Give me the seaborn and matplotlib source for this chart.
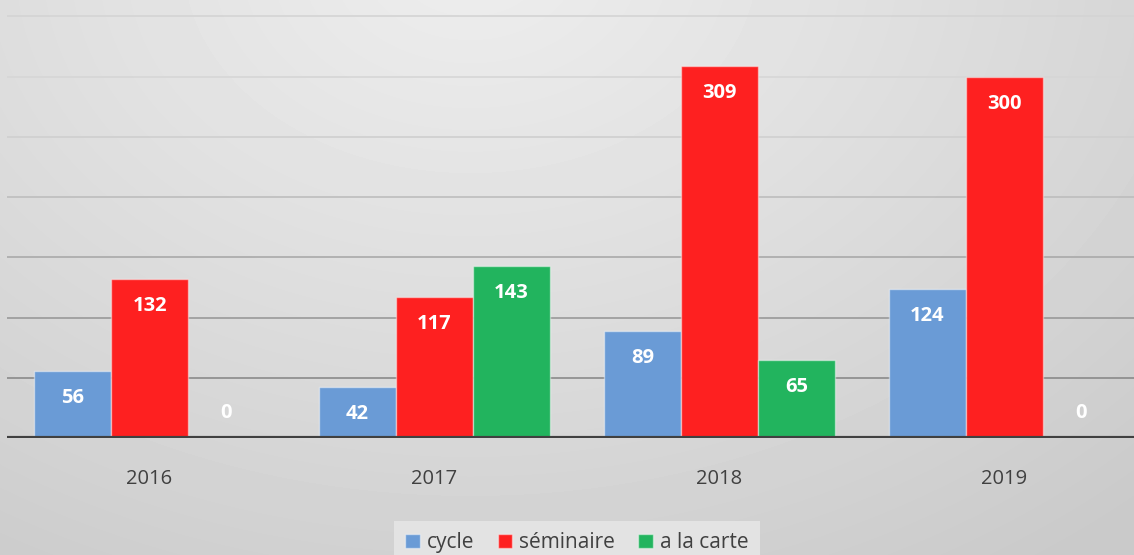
import numpy as np
import pandas as pd
import matplotlib
matplotlib.use("Agg")
import matplotlib.pyplot as plt
import seaborn as sns

years = ["2016", "2017", "2018", "2019"]
cycle = [56, 42, 89, 124]
seminaire = [132, 117, 309, 300]
a_la_carte = [0, 143, 65, 0]
series = ["cycle", "séminaire", "a la carte"]
colors = ["#6A9BD6", "#FE2020", "#22B45E"]

df = pd.DataFrame({
    "year": years * 3,
    "value": cycle + seminaire + a_la_carte,
    "series": [series[0]] * 4 + [series[1]] * 4 + [series[2]] * 4,
})

sns.set_theme(style="white")
plt.rcParams["font.family"] = ["Open Sans", "DejaVu Sans"]

W, H = 1134, 555
fig = plt.figure(figsize=(W / 100, H / 100), dpi=100)

# background radial gradient
bg = fig.add_axes([0, 0, 1, 1], zorder=-10)
yy, xx = np.mgrid[0:H, 0:W]
r = np.sqrt(((xx - 470) / 1.0) ** 2 + ((yy + 40) * 1.35) ** 2)
t = np.clip(r / 1000.0, 0, 1)
c = 0.93 - 0.14 * t ** 1.1
bg.imshow(c, cmap="gray", vmin=0, vmax=1, aspect="auto", interpolation="bilinear")
bg.axis("off")

left = 7 / W
bottom = (H - 438) / H
ax = fig.add_axes([left, bottom, 1140 / W, 438 / H])
ax.set_facecolor("none")

sns.barplot(data=df, x="year", y="value", hue="series", hue_order=series,
            palette=colors, width=0.81, gap=0, saturation=1, ax=ax,
            legend=False, edgecolor=(1, 1, 1, 0.45), linewidth=1, zorder=3)

ax.set_xlim(-0.5, 3.5)
ax.set_ylim(0, 363.5)
ax.set_yticks(range(0, 351, 50))
ax.set_yticklabels([])
ax.yaxis.grid(True, linewidth=1.2, zorder=0)
grid_cols = {0: "#8a8a8a", 50: "#8a8a8a", 100: "#999999", 150: "#a9a9a9",
             200: "#bdbdbd", 250: "#cfcfcf", 300: "#d6d6d6", 350: "#d4d4d4"}
for gl, v in zip(ax.get_ygridlines(), range(0, 351, 50)):
    gl.set_color(grid_cols[v])
ax.set_axisbelow(True)
ax.axhline(0, color="#404040", linewidth=3.0, zorder=5)
for s in ax.spines.values():
    s.set_visible(False)
ax.set_xlabel("")
ax.set_ylabel("")
ax.tick_params(axis="x", length=0, pad=22, labelsize=14.5, labelcolor="#404040")
ax.tick_params(axis="y", length=0)

for cont in ax.containers:
    for p in cont.patches:
        h = p.get_height()
        xc = p.get_x() + p.get_width() / 2
        off = -27 if h > 0 else 25
        ax.annotate(f"{int(round(h))}", xy=(xc, h), xytext=(0, off),
                    textcoords="offset pixels", ha="center", va="center",
                    color="white", fontsize=14.5, fontweight="bold", zorder=6)

leg = fig.legend(ax.containers, series, loc="upper center",
                 bbox_to_anchor=(577 / W, 1 - 521 / H), ncol=3, frameon=True,
                 fontsize=15, labelcolor="#404040", handlelength=0.7,
                 handleheight=0.7, handletextpad=0.35, columnspacing=1.1,
                 borderpad=0.55, borderaxespad=0, fancybox=False)
leg.get_frame().set_facecolor("#e3e3e3")
leg.get_frame().set_edgecolor("none")
leg.get_frame().set_alpha(1)

fig.savefig("out.png", dpi=100)
